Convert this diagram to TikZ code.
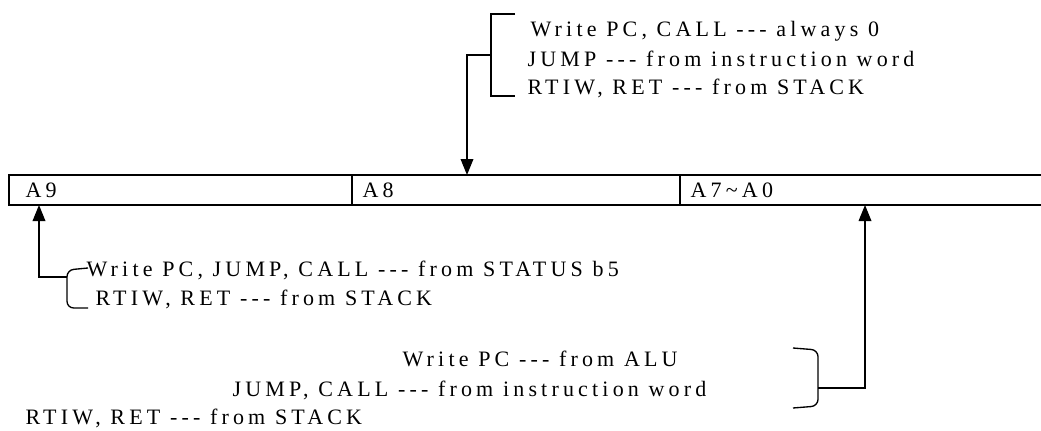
\documentclass[tikz,border=0pt]{standalone}
\usepackage{fontspec}
\setmainfont{Liberation Serif}[LetterSpace=19,Ligatures=TeXOff]
\usetikzlibrary{arrows.meta}

\begin{document}
\begin{tikzpicture}
  [x=0.75pt,y=-0.75pt,line width=1pt,
   every node/.style={inner sep=0pt,anchor=base west,font=\fontsize{16.5}{19}\selectfont},
   tip/.style={-{Triangle[width=9.5pt,length=12pt]}}]
  \useasboundingbox (0,0) rectangle (1041,431);

  % address register
  \draw[line width=1.3pt] (1041,175) -- (9,175) -- (9,205) -- (1041,205);
  \draw (352,175) -- (352,205);
  \draw (680,175) -- (680,205);
  \node (a9) at (25,197) {A9};
  \node (a8) at (362,197) {A8};
  \node (a7) at (690,197) {A7\textasciitilde A0};

  % A8 source
  \node (t1) at (530,37) {Write PC, CALL --- always 0};
  \node (t2) at (527,67) {JUMP --- from instruction word};
  \node (t3) at (527,95) {RTIW, RET --- from STACK};
  \draw (515,14) -- (491,14) -- (491,96) -- (515,96);
  \coordinate (topjoin) at (491,55);
  \coordinate (a8in) at (467,175);
  \draw[tip] (topjoin) -| (a8in);

  % A9 source
  \node (l1) at (86,276) {Write PC, JUMP, CALL --- from STATUS b5};
  \node (l2) at (95,305) {RTIW, RET --- from STACK};
  \draw[rounded corners=5pt] (88,268) -- (67,270) -- (67,308) -- (88,308);
  \coordinate (leftjoin) at (67,277);
  \coordinate (a9in) at (39,205);
  \draw[tip] (leftjoin) -| (a9in);

  % A7~A0 source
  \node (r1) at (402,366) {Write PC --- from ALU};
  \node (r2) at (232,396) {JUMP, CALL --- from instruction word};
  \node (r3) at (25,424) {RTIW, RET --- from STACK};
  \draw[rounded corners=5pt] (793,348) -- (818,350) -- (818,406) -- (793,408);
  \coordinate (rightjoin) at (818,388);
  \coordinate (a7in) at (865,205);
  \draw[tip] (rightjoin) -| (a7in);

\end{tikzpicture}
\end{document}
